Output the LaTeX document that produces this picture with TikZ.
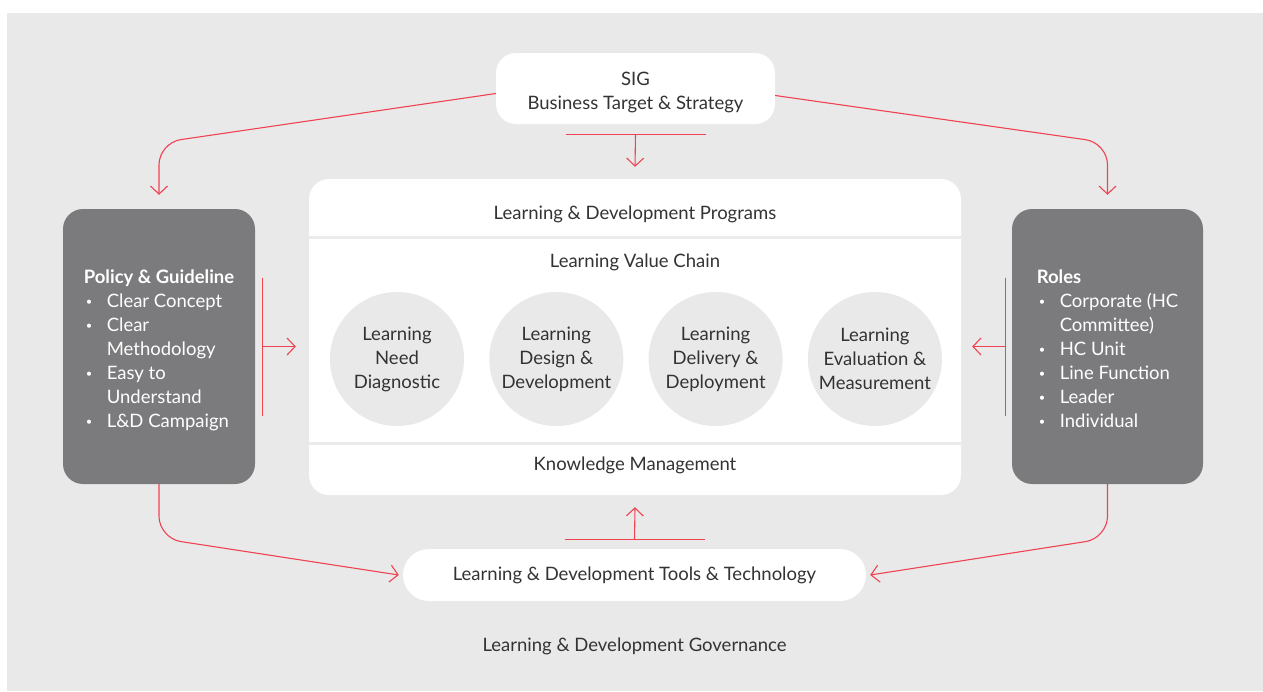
\documentclass[tikz,border=0pt]{standalone}
\usepackage{fontspec}
\setmainfont{Lato}
\usetikzlibrary{arrows.meta}

\definecolor{panel}{HTML}{E9E9E9}
\definecolor{ink}{HTML}{333333}
\definecolor{darkbox}{HTML}{7B7B7D}
\definecolor{linkred}{HTML}{EF4352}
\definecolor{sepgray}{HTML}{EBEBEB}

\newcommand{\bul}{\hspace{2pt}\raisebox{2pt}{\scalebox{0.6}{\textbullet}}}
\newcommand{\lowered}[2]{\raisebox{-#1}[\height][\depth]{#2}}

\tikzset{
  every node/.style={font=\fontsize{18.5}{24}\selectfont},
  whitebox/.style={fill=white, rounded corners=20pt, inner sep=0pt, text=ink, align=center},
  sidebox/.style={fill=darkbox, rounded corners=20pt, minimum width=192pt, minimum height=275pt, inner sep=0pt, text=white},
  stage/.style={circle, fill=panel, minimum size=134pt, inner sep=0pt, align=center, text=ink},
  txt/.style={text=ink, align=center},
  link/.style={draw=linkred, line width=1.1pt},
  tip/.style={-{Straight Barb[length=8pt,width=17pt]}},
}

\begin{document}
\begin{tikzpicture}[x=1pt,y=-1pt]
  % background
  \fill[white] (0,0) rectangle (1263,691);
  \fill[panel] (7,13) rectangle (1263,691);

  % boxes
  \node[whitebox, minimum width=279pt, minimum height=71pt] (sig) at (635.5,88.5)
    {\lowered{4pt}{\begin{tabular}{@{}c@{}}SIG\\Business Target \& Strategy\end{tabular}}};
  \node[whitebox, minimum width=652pt, minimum height=316pt] (core) at (635,337) {};
  \node[whitebox, rounded corners=26pt, minimum width=463pt, minimum height=52pt] (tools) at (634.5,575) {Learning \& Development Tools \& Technology};

  \node[sidebox] (policy) at (159,346.5) {\lowered{4.5pt}{%
    \begin{tabular}{@{}p{23pt}@{}l@{}}
      \multicolumn{2}{@{}l@{}}{\textbf{Policy \& Guideline}}\\
      \bul & Clear Concept\\
      \bul & Clear\\
           & Methodology\\
      \bul & Easy to\\
           & Understand\\
      \bul & L\&D Campaign
    \end{tabular}}};
  \node[sidebox, minimum width=191pt] (roles) at (1107.5,346.5) {\lowered{4.5pt}{%
    \begin{tabular}{@{}p{23pt}@{}l@{}}
      \multicolumn{2}{@{}l@{}}{\textbf{Roles}}\\
      \bul & Corporate (HC\\
           & Committee)\\
      \bul & HC Unit\\
      \bul & Line Function\\
      \bul & Leader\\
      \bul & Individual
    \end{tabular}}};

  % inside the value chain
  \draw[sepgray, line width=3pt] (core.west |- 0,237) -- (core.east |- 0,237);
  \draw[sepgray, line width=3pt] (core.west |- 0,443) -- (core.east |- 0,443);
  \node[txt] (prog) at (635,214) {Learning \& Development Programs};
  \node[txt] (chain) at (635,262) {Learning Value Chain};
  \node[txt] (km) at (635,465) {Knowledge Management};
  \foreach \i/\t in {0/{Learning\\Need\\Diagnostic},
                     1/{Learning\\Design \&\\Development},
                     2/{Learning\\Delivery \&\\Deployment},
                     3/{Learning\\Evaluation \&\\Measurement}}
    \node[stage] (stage\i) at (397+159.3*\i,359) {\t};

  \node[txt] (gov) at (634.5,646) {Learning \& Development Governance};

  % connectors
  \draw[link, tip, rounded corners=22pt] ([yshift=-5pt]sig.west) -- ([yshift=66pt]policy.north) -- ([yshift=14pt]policy.north);
  \draw[link, tip, rounded corners=22pt] ([yshift=-7pt]sig.east) -- ([yshift=66pt]roles.north) -- ([yshift=14pt]roles.north);
  \draw[link, tip, rounded corners=22pt] (policy.south) -- ([yshift=-54pt]policy.south) -- ([xshift=-4pt]tools.west);
  \draw[link, tip, rounded corners=22pt] (roles.south) -- ([yshift=-54pt]roles.south) -- ([xshift=4pt]tools.east);

  \coordinate (topbar) at ([yshift=-10pt]sig.south);
  \draw[link] ([xshift=-70pt]topbar) -- ([xshift=70pt]topbar);
  \draw[link, tip] (topbar) -- ([yshift=12pt]core.north);

  \coordinate (botbar) at ([yshift=9pt]tools.north);
  \draw[link] ([xshift=-70pt]botbar) -- ([xshift=70pt]botbar);
  \draw[link, tip] (botbar) -- ([yshift=-12pt]core.south);

  \coordinate (leftbar) at ([xshift=7pt]policy.east);
  \draw[link] ([yshift=69pt]leftbar) -- ([yshift=-69pt]leftbar);
  \draw[link, tip] (leftbar) -- ([xshift=-13pt]leftbar -| core.west);

  \coordinate (rightbar) at ([xshift=-6pt]roles.west);
  \draw[link] ([yshift=69pt]rightbar) -- ([yshift=-69pt]rightbar);
  \draw[link, tip] (rightbar) -- ([xshift=11pt]rightbar -| core.east);
\end{tikzpicture}
\end{document}
